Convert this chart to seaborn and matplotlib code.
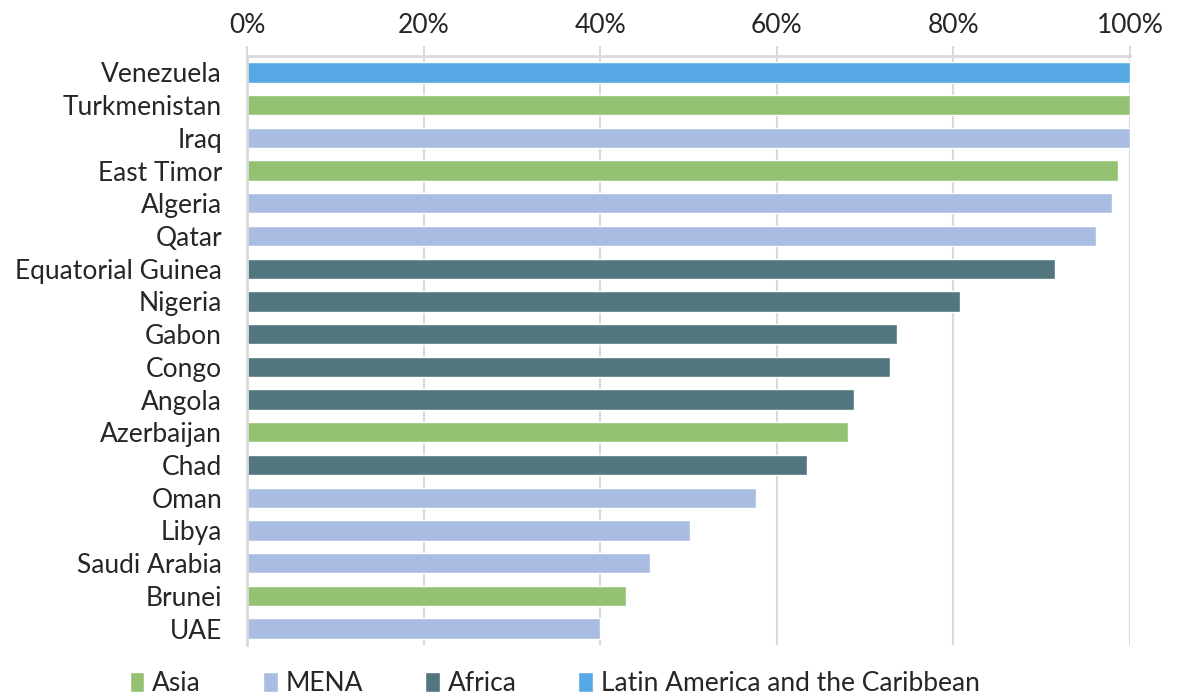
import matplotlib
matplotlib.use("Agg")
import matplotlib.pyplot as plt
import seaborn as sns
import pandas as pd
from matplotlib.patches import Patch
from matplotlib.ticker import PercentFormatter

countries = ["Venezuela", "Turkmenistan", "Iraq", "East Timor", "Algeria", "Qatar",
             "Equatorial Guinea", "Nigeria", "Gabon", "Congo", "Angola", "Azerbaijan",
             "Chad", "Oman", "Libya", "Saudi Arabia", "Brunei", "UAE"]
shares = [100, 100, 100, 98.6, 98.0, 96.1, 91.5, 80.7, 73.6, 72.8, 68.7, 68.1,
          63.4, 57.6, 50.2, 45.6, 42.9, 40.0]
regions = ["Latin America and the Caribbean", "Asia", "MENA", "Asia", "MENA", "MENA",
           "Africa", "Africa", "Africa", "Africa", "Africa", "Asia",
           "Africa", "MENA", "MENA", "MENA", "Asia", "MENA"]
region_order = ["Asia", "MENA", "Africa", "Latin America and the Caribbean"]
region_colors = ["#95C173", "#A9BCE2", "#52767D", "#56A8E4"]

df = pd.DataFrame({"country": countries, "share": shares, "region": regions})

sns.set_style("white")
plt.rcParams["font.family"] = ["Lato", "DejaVu Sans"]

fig = plt.figure(figsize=(11.83, 6.94), dpi=100)
ax = fig.add_axes([0.2088, 0.0706, 0.7464, 0.8487])

sns.barplot(data=df, y="country", x="share", hue="region", hue_order=region_order,
            palette=region_colors, dodge=False, width=0.62, orient="h",
            saturation=1, legend=False, ax=ax)

ax.set_xlim(0, 100)
ax.set_ylim(len(countries) - 0.5, -0.5)
ax.xaxis.set_major_formatter(PercentFormatter(decimals=0))
ax.set_xticks(range(0, 101, 20))
ax.xaxis.tick_top()
ax.tick_params(axis="x", labelsize=19, length=7, color="#D9D9D9", width=1.5, pad=6)
ax.tick_params(axis="y", labelsize=19, length=0, pad=18)
ax.set_xlabel("")
ax.set_ylabel("")
ax.grid(True, axis="x", color="#D9D9D9", linewidth=1.5)
ax.set_axisbelow(True)
for side in ["right", "bottom"]:
    ax.spines[side].set_visible(False)
for side in ["top", "left"]:
    ax.spines[side].set_color("#D9D9D9")
    ax.spines[side].set_linewidth(2)

handles = [Patch(facecolor=c, label=r) for r, c in zip(region_order, region_colors)]
fig.legend(handles=handles, loc="center", bbox_to_anchor=(0.469, 0.015), ncol=4,
           frameon=False, fontsize=19, handlelength=0.55, handleheight=0.8,
           handletextpad=0.3, columnspacing=2.35)

fig.savefig("out.png", dpi=100)
